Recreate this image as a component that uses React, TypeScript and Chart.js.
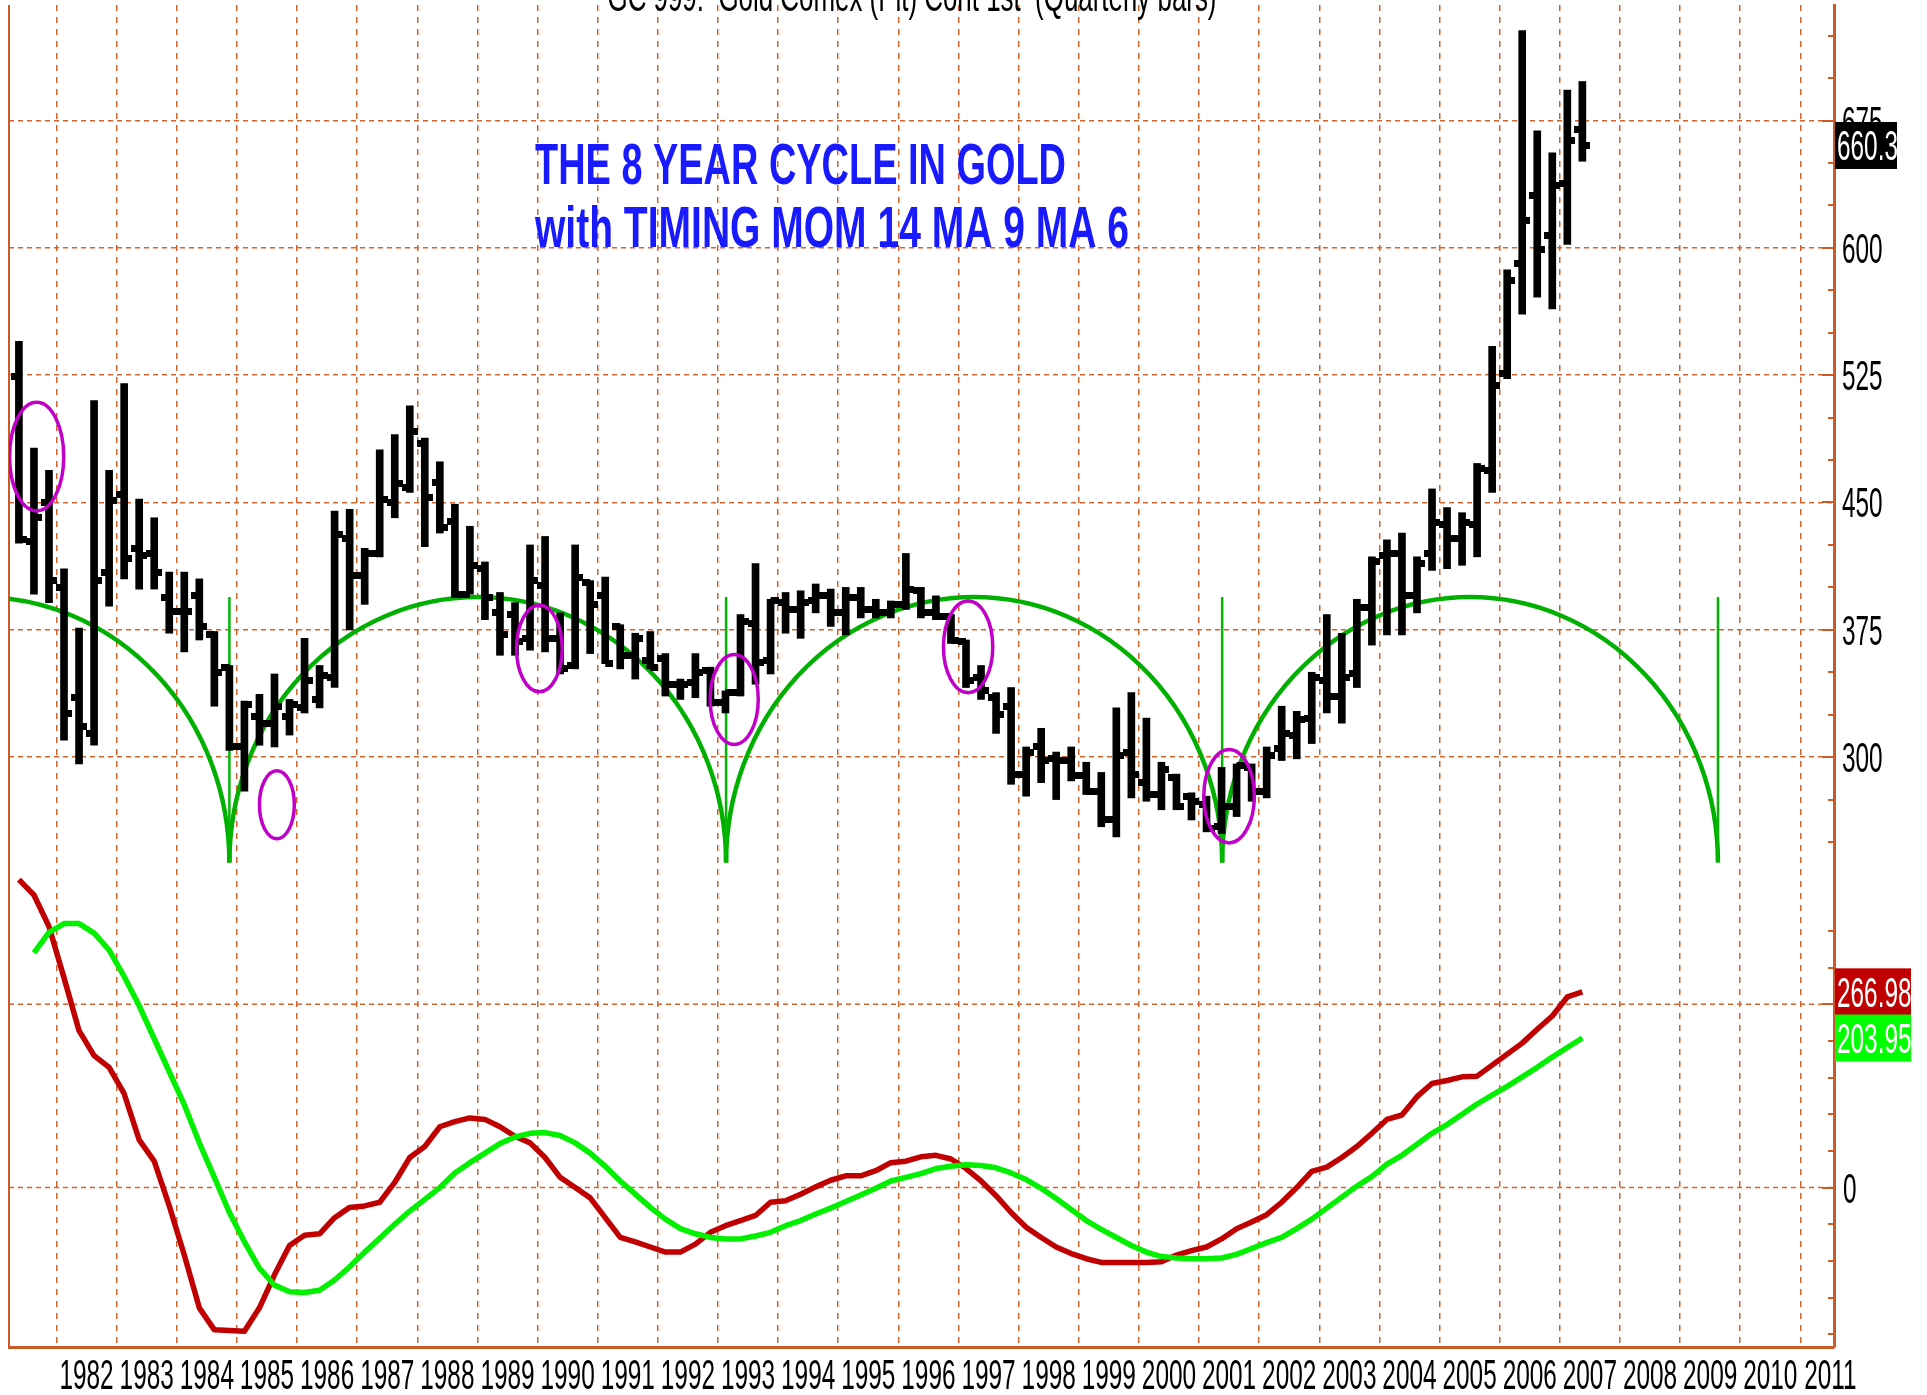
import React, { useEffect, useRef } from 'react';
import { Chart, registerables } from 'chart.js';

Chart.register(...registerables);

// ---------- DATA ----------
const FIRST_YEAR = 1981;
const FIRST_QUARTER = 2; // first bar is 1981 Q2, quarterly bars

const opens = [
  524, 427, 450,
  400, 335, 314, 409,
  455, 423, 420, 394,
  386, 395, 372, 353,
  306, 324, 320, 324,
  329, 334, 347, 429,
  407, 420, 450, 459,
  485, 462, 439, 396,
  411, 385, 384, 370,
  401, 370, 354, 403,
  395, 377, 360, 357,
  358, 343, 344, 351,
  332, 338, 379, 357,
  391, 387, 392, 395,
  385, 394, 387, 385,
  390, 398, 385, 383,
  368, 347, 335, 330,
  290, 306, 299, 298,
  289, 280, 263, 303,
  285, 278, 288, 277,
  272, 259, 271, 294,
  280, 305, 313, 323,
  345, 336, 349, 388,
  419, 420, 395, 420,
  437, 429, 437, 469,
  526, 591, 631, 607,
  638, 670,
];
const highs = [
  545, 482, 469,
  411, 376, 510, 469,
  520, 452, 441, 409,
  409, 405, 374, 354,
  333, 337, 349, 334,
  370, 354, 445, 446,
  423, 481, 490, 507,
  488, 474, 449, 436,
  415, 397, 391, 425,
  430, 385, 425, 404,
  406, 378, 373, 374,
  361, 346, 361, 353,
  339, 384, 414, 393,
  397, 398, 402, 399,
  400, 400, 393, 392,
  420, 400, 395, 384,
  369, 354, 338, 341,
  306, 317, 303, 306,
  297, 291, 329, 338,
  323, 297, 290, 279,
  277, 294, 296, 296,
  306, 330, 327, 350,
  384, 373, 393, 418,
  428, 432, 418, 458,
  447, 444, 473, 542,
  587, 728, 669, 656,
  693, 698,
];
const lows = [
  426, 396, 391,
  310, 296, 307, 389,
  405, 399, 399, 373,
  362, 369, 330, 304,
  280, 307, 306, 313,
  326, 329, 341, 375,
  390, 418, 441, 456,
  424, 432, 394, 396,
  381, 360, 360, 363,
  362, 349, 352, 361,
  355, 352, 346, 352,
  336, 334, 335, 330,
  326, 336, 343, 349,
  373, 370, 385, 377,
  372, 382, 382, 382,
  387, 382, 381, 367,
  341, 334, 314, 284,
  277, 285, 275, 286,
  278, 259, 253, 276,
  274, 269, 269, 263,
  256, 255, 265, 274,
  276, 298, 299, 308,
  326, 320, 341, 366,
  372, 372, 385, 410,
  411, 413, 418, 456,
  523, 561, 571, 564,
  602, 651,
];
const closes = [
  428, 441, 404,
  326, 318, 404, 451,
  417, 419, 409, 386,
  386, 377, 350, 306,
  331, 320, 330, 331,
  345, 348, 431, 407,
  420, 452, 461, 492,
  453, 435, 396, 413,
  394, 372, 368, 404,
  370, 352, 406, 390,
  355, 360, 370, 353,
  343, 343, 350, 332,
  338, 380, 356, 392,
  387, 391, 395, 385,
  394, 387, 385, 390,
  399, 385, 383, 369,
  345, 339, 325, 290,
  303, 298, 298, 289,
  280, 263, 301, 290,
  278, 293, 271, 274,
  258, 271, 295, 280,
  301, 314, 322, 347,
  336, 347, 388, 415,
  420, 395, 414, 438,
  429, 438, 470, 519,
  581, 616, 599, 637,
  663, 660.3,
];

// Timing oscillator: MOM 14 smoothed MA 9 (red) and its MA 6 (green)
const momMA9 = [
  420, 399, 356,
  286, 214, 180, 164,
  128, 65, 36, -25,
  -92, -164, -194, -195,
  -196, -164, -119, -79,
  -65, -63, -41, -27,
  -25, -20, 7, 41,
  56, 83, 90, 95,
  93, 83, 70, 61,
  41, 14, 0, -14,
  -41, -68, -74, -81,
  -88, -88, -77, -61,
  -52, -45, -38, -20,
  -18, -9, 1, 10,
  16, 16, 23, 34,
  36, 42, 44, 39,
  26, 9, -11, -34,
  -54, -68, -81, -90,
  -97, -102, -102, -102,
  -102, -101, -92, -86,
  -81, -70, -56, -47,
  -37, -20, 0, 22,
  28, 41, 56, 74,
  93, 99, 124, 142,
  146, 151, 152, 167,
  182, 197, 216, 234,
  260, 266.98,
];
const momMA6 = [
  null, 320, 348,
  360, 360, 347, 324,
  288, 248, 203, 158,
  113, 61, 14, -34,
  -74, -110, -133, -142,
  -143, -140, -126, -108,
  -88, -69, -50, -32,
  -16, 0, 20, 34,
  47, 60, 69, 74,
  75, 71, 61, 47,
  29, 9, -9, -27,
  -43, -56, -63, -68,
  -70, -70, -66, -61,
  -52, -45, -36, -28,
  -19, -10, -1, 9,
  14, 19, 26, 29,
  31, 30, 27, 20,
  11, -1, -15, -30,
  -45, -57, -68, -79,
  -88, -94, -96, -97,
  -97, -96, -91, -83,
  -75, -68, -56, -43,
  -28, -13, 2, 15,
  32, 44, 59, 74,
  86, 100, 114, 126,
  138, 151, 164, 178,
  191, 203.95,
];

// Axis tick labels
const yearLabels = [1982, 1983, 1984, 1985, 1986, 1987, 1988, 1989, 1990, 1991, 1992, 1993, 1994, 1995, 1996,
  1997, 1998, 1999, 2000, 2001, 2002, 2003, 2004, 2005, 2006, 2007, 2008, 2009, 2010, 2011];
const priceLabels = [300, 375, 450, 525, 600, 675];
const oscGrid = [0, 250];
const oscLabels = [0];

// 8 year cycle (trough dates, arc top & base in price units)
const cycleTroughs = [1976.62, 1984.875, 1993.135, 2001.385, 2009.63];
const cycleTop = 394.3;
const cycleBase = 237.9;

// magenta circled areas (center year, center price, radius in years, radius in price)
const circleYears = [1981.67, 1985.665, 1990.03, 1993.27, 1997.16, 2001.5];
const circlePrices = [477, 272, 364, 334, 365, 277];
const circleYearRadii = [0.45, 0.29, 0.38, 0.4, 0.41, 0.42];
const circlePriceRadii = [32, 20, 25.5, 26.5, 27, 27.5];

const lastPrice = 660.3;
const lastMA9 = 266.98;
const lastMA6 = 203.95;

const TITLE = 'GC 999:  Gold Comex (Pit) Cont 1st  (Quarterly bars)';
const NOTE1 = 'THE 8 YEAR CYCLE IN GOLD';
const NOTE2 = 'with TIMING MOM 14 MA 9 MA 6';

// ---------- STYLE ----------
const GRID = '#d4622c';
const AXIS = '#cc5a26';
const LABEL_FONT = '42px "Liberation Sans", Arial, sans-serif';
const SX = 0.58;

function drawText(ctx: CanvasRenderingContext2D, text: string, x: number, y: number, font: string, color: string,
  opts: { sx?: number; width?: number; align?: CanvasTextAlign } = {}) {
  ctx.save();
  ctx.font = font;
  const w = ctx.measureText(text).width;
  const sx = opts.width ? opts.width / w : (opts.sx ?? 1);
  ctx.translate(x, y);
  ctx.scale(sx, 1);
  ctx.fillStyle = color;
  ctx.textAlign = opts.align || 'left';
  ctx.textBaseline = 'alphabetic';
  ctx.fillText(text, 0, 0);
  ctx.restore();
}

const overlay = {
  id: 'overlay',
  beforeDatasetsDraw(chart: any) {
    const { ctx, chartArea: a, scales } = chart;
    const xs = scales.x, ys = scales.y, y2 = scales.y2;
    ctx.save();
    // oscillator grid lines
    ctx.strokeStyle = GRID;
    ctx.lineWidth = 1.5;
    ctx.setLineDash([5, 4]);
    for (const v of oscGrid) {
      const py = y2.getPixelForValue(v);
      ctx.beginPath();
      ctx.moveTo(a.left, py);
      ctx.lineTo(a.right, py);
      ctx.stroke();
    }
    ctx.setLineDash([]);
    // left border
    ctx.lineWidth = 2;
    ctx.strokeStyle = AXIS;
    ctx.beginPath();
    ctx.moveTo(a.left, a.top);
    ctx.lineTo(a.left, a.bottom);
    ctx.stroke();

    ctx.beginPath();
    ctx.rect(a.left, a.top, a.right - a.left, a.bottom - a.top);
    ctx.clip();
    // cycle arcs
    const yb = ys.getPixelForValue(cycleBase);
    const yt = ys.getPixelForValue(cycleTop);
    ctx.strokeStyle = '#00b000';
    ctx.lineWidth = 4.5;
    for (let i = 0; i < cycleTroughs.length - 1; i++) {
      const x0 = xs.getPixelForValue(cycleTroughs[i]);
      const x1 = xs.getPixelForValue(cycleTroughs[i + 1]);
      ctx.beginPath();
      ctx.ellipse((x0 + x1) / 2, yb, (x1 - x0) / 2, yb - yt, 0, Math.PI, 2 * Math.PI);
      ctx.stroke();
    }
    ctx.lineWidth = 2.5;
    ctx.strokeStyle = '#00b800';
    for (const t of cycleTroughs) {
      const px = xs.getPixelForValue(t);
      ctx.beginPath();
      ctx.moveTo(px, yb);
      ctx.lineTo(px, yt);
      ctx.stroke();
    }
    ctx.restore();
  },
  afterDatasetsDraw(chart: any) {
    const { ctx, chartArea: a, scales } = chart;
    const xs = scales.x, ys = scales.y;
    ctx.save();
    ctx.beginPath();
    ctx.rect(a.left, a.top, a.right - a.left, a.bottom - a.top);
    ctx.clip();
    ctx.strokeStyle = '#c000c8';
    ctx.lineWidth = 3.5;
    for (let i = 0; i < circleYears.length; i++) {
      const cx = xs.getPixelForValue(circleYears[i]);
      const cy = ys.getPixelForValue(circlePrices[i]);
      const rx = xs.getPixelForValue(circleYears[i] + circleYearRadii[i]) - cx;
      const ry = cy - ys.getPixelForValue(circlePrices[i] + circlePriceRadii[i]);
      ctx.beginPath();
      ctx.ellipse(cx, cy, rx, ry, 0, 0, 2 * Math.PI);
      ctx.stroke();
    }
    ctx.restore();
  },
  afterDraw(chart: any) {
    const { ctx, chartArea: a, scales } = chart;
    const xs = scales.x, ys = scales.y, y2 = scales.y2;
    ctx.save();
    // right axis tick marks
    ctx.strokeStyle = AXIS;
    ctx.lineWidth = 2;
    for (let v = 250; v <= 725; v += 25) {
      const py = Math.round(ys.getPixelForValue(v));
      const len = priceLabels.includes(v) ? 12 : 6;
      ctx.beginPath();
      ctx.moveTo(a.right - len, py);
      ctx.lineTo(a.right, py);
      ctx.stroke();
    }
    for (let v = -200; v <= 350; v += 50) {
      const py = Math.round(y2.getPixelForValue(v));
      const len = oscGrid.includes(v) ? 12 : 6;
      ctx.beginPath();
      ctx.moveTo(a.right - len, py);
      ctx.lineTo(a.right, py);
      ctx.stroke();
    }
    ctx.restore();

    // x labels (centered in each year)
    for (const yr of yearLabels) {
      drawText(ctx, String(yr), xs.getPixelForValue(yr + 0.5), a.bottom + 42, LABEL_FONT, '#000', { sx: SX, align: 'center' });
    }
    // price labels
    for (const v of priceLabels) {
      drawText(ctx, String(v), a.right + 8, ys.getPixelForValue(v) + 15, LABEL_FONT, '#000', { sx: SX });
    }
    for (const v of oscLabels) {
      drawText(ctx, String(v), a.right + 9, y2.getPixelForValue(v) + 15, LABEL_FONT, '#000', { sx: SX });
    }
    // value boxes
    const boxes = [
      { v: ys.getPixelForValue(lastPrice), t: String(lastPrice), bg: '#000000', w: 62 },
      { v: y2.getPixelForValue(lastMA9), t: lastMA9.toFixed(2), bg: '#c00000', w: 76 },
      { v: y2.getPixelForValue(lastMA6), t: lastMA6.toFixed(2), bg: '#00ff00', w: 76 },
    ];
    for (const b of boxes) {
      ctx.fillStyle = b.bg;
      ctx.fillRect(a.right + 1, b.v - 23.5, b.w, 47);
      drawText(ctx, b.t, a.right + 3, b.v + 15, LABEL_FONT, '#ffffff', { sx: SX });
    }
    // title (partially cut at top)
    drawText(ctx, TITLE, 912, 11, LABEL_FONT, '#000', { width: 609, align: 'center' });
    // annotation
    const noteFont = 'bold 57px "Liberation Sans", Arial, sans-serif';
    drawText(ctx, NOTE1, 535, 184, noteFont, '#1a1aff', { width: 531 });
    drawText(ctx, NOTE2, 535, 247, noteFont, '#1a1aff', { width: 594 });
  },
};

function makeTick(side: 'left' | 'right') {
  const c = document.createElement('canvas');
  c.width = 16;
  c.height = 7;
  const g = c.getContext('2d')!;
  g.fillStyle = '#000';
  if (side === 'left') g.fillRect(0, 0, 8, 7);
  else g.fillRect(8, 0, 8, 7);
  return c;
}

export default function App() {
  const ref = useRef<HTMLCanvasElement | null>(null);
  useEffect(() => {
    document.body.style.margin = '0';
    const canvas = ref.current!;
    const qx = opens.map((_, i) => FIRST_YEAR + (FIRST_QUARTER - 1 + i + 0.5) / 4);
    const barData = qx.map((x, i) => ({ x, y: [lows[i], highs[i]] }));
    const openData = qx.map((x, i) => ({ x, y: opens[i] }));
    const closeData = qx.map((x, i) => ({ x, y: closes[i] }));
    const redData = qx.map((x, i) => ({ x, y: momMA9[i] }));
    const greenData = qx.map((x, i) => ({ x, y: momMA6[i] })).filter((p) => p.y !== null);

    const chart = new Chart(canvas, {
      type: 'line',
      data: {
        datasets: [
          { type: 'bar', label: 'High-Low', data: barData as any, backgroundColor: '#000', borderWidth: 0, barThickness: 7, grouped: false, xAxisID: 'x', yAxisID: 'y', order: 3 } as any,
          { type: 'line', label: 'Open', data: openData, showLine: false, pointStyle: makeTick('left'), pointRadius: 4, xAxisID: 'x', yAxisID: 'y', order: 2 } as any,
          { type: 'line', label: 'Close', data: closeData, showLine: false, pointStyle: makeTick('right'), pointRadius: 4, xAxisID: 'x', yAxisID: 'y', order: 2 } as any,
          { type: 'line', label: 'MOM 14 MA 9', data: redData, borderColor: '#c00000', borderWidth: 5.5, pointRadius: 0, tension: 0, borderJoinStyle: 'round', xAxisID: 'x', yAxisID: 'y2', order: 5 } as any,
          { type: 'line', label: 'MA 6', data: greenData, borderColor: '#00f000', borderWidth: 5.5, pointRadius: 0, tension: 0, borderJoinStyle: 'round', xAxisID: 'x', yAxisID: 'y2', order: 4 } as any,
        ],
      },
      options: {
        animation: false,
        responsive: false,
        devicePixelRatio: 1,
        events: [],
        layout: { padding: { left: 9, top: 0, right: 0, bottom: 0 } },
        plugins: { legend: { display: false }, tooltip: { enabled: false }, title: { display: false } },
        scales: {
          x: {
            type: 'linear',
            min: 1981.21,
            max: 2011.56,
            offset: false,
            grid: { color: GRID, lineWidth: 1.5, drawTicks: false, offset: false },
            border: { display: true, color: AXIS, width: 3, dash: [6, 6] },
            ticks: { display: false },
            afterBuildTicks: (s: any) => { s.ticks = yearLabels.map((v) => ({ value: v })); },
            afterFit: (s: any) => { s.height = 48; s.paddingLeft = 0; s.paddingRight = 0; },
          },
          y: {
            type: 'linear',
            position: 'right',
            min: -47.45,
            max: 743.05,
            grid: { color: GRID, lineWidth: 1.5, drawTicks: false },
            border: { display: true, color: AXIS, width: 3, dash: [5, 4] },
            ticks: { display: false },
            afterBuildTicks: (s: any) => { s.ticks = priceLabels.map((v) => ({ value: v })); },
            afterFit: (s: any) => { s.width = 93; s.paddingTop = 0; s.paddingBottom = 0; },
          },
          y2: {
            type: 'linear',
            position: 'right',
            display: false,
            min: -217.4,
            max: 1612.8,
          },
        },
      } as any,
      plugins: [overlay],
    });
    return () => chart.destroy();
  }, []);
  return <canvas ref={ref} width={1927} height={1395} style={{ display: 'block' }} />;
}
